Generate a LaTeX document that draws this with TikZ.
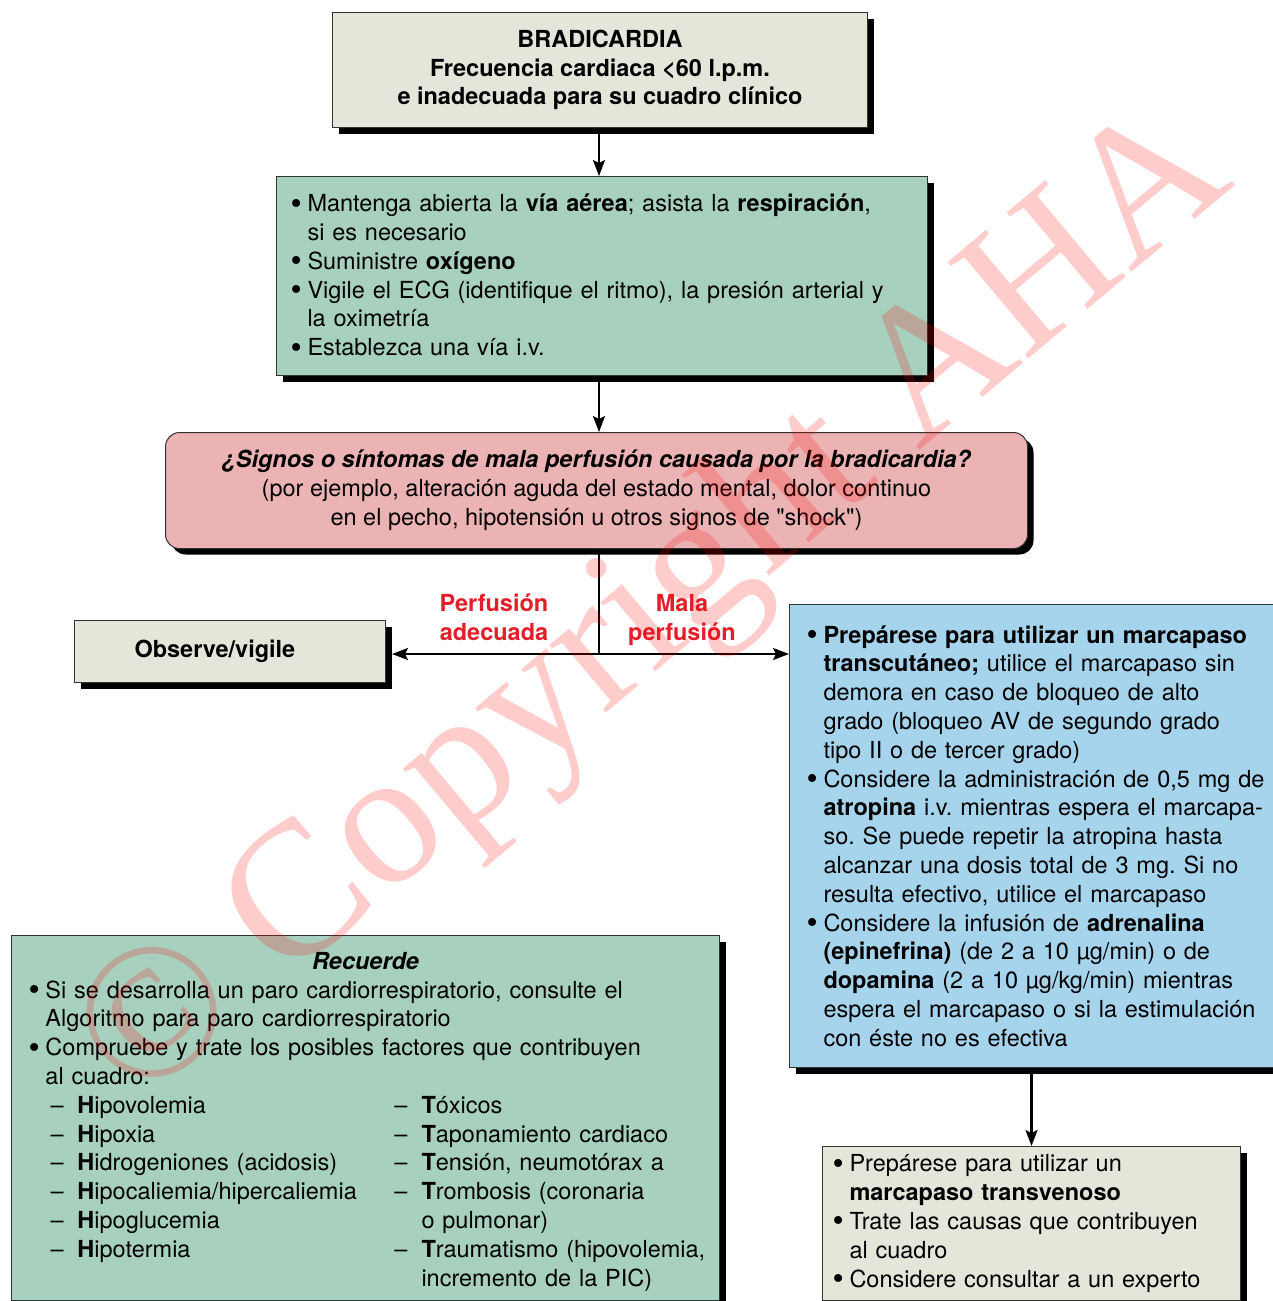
\documentclass[tikz,border=0pt]{standalone}
\usepackage{fontspec}
\setmainfont{TeX Gyre Heros}[Ligatures=TeXOff]
\newfontfamily\serifa{Liberation Serif}
\usetikzlibrary{shadows,arrows.meta}
\definecolor{cGris}{RGB}{230,229,218}
\definecolor{cVerde}{RGB}{168,208,190}
\definecolor{cRosa}{RGB}{236,179,180}
\definecolor{cAzul}{RGB}{166,212,236}
\definecolor{cRojo}{RGB}{228,30,40}
\newcommand{\cuerpo}{\fontsize{11.75}{14.4}\selectfont}
\newcommand{\bul}{\makebox[8.5pt][l]{\raisebox{-1.2pt}{\fontsize{16}{14.4}\selectfont•}}}
\newcommand{\ind}{\hspace*{8.5pt}}
\newcommand{\dsh}{\makebox[13.5pt][l]{–}}
\hyphenpenalty=10000
\frenchspacing

\begin{document}
\begin{tikzpicture}[x=0.5pt,y=-0.5pt]
	\tikzstyle{every node}+=[inner sep=0pt, font=\cuerpo]
	\tikzstyle{caja}=[draw=black!80, line width=0.5pt, anchor=north west, drop shadow={shadow xshift=3pt, shadow yshift=-3pt, fill=black, opacity=1}]
	\tikzstyle{rotulo}=[align=center, text=cRojo, font=\cuerpo\bfseries]
	\tikzstyle{flecha}=[line width=1.1pt, -{Stealth[length=8pt,width=6pt,inset=1.5pt]}]
	\useasboundingbox (0,0) rectangle (1273,1301);
	\node [caja, fill=cGris, minimum width=267.5pt, minimum height=57.5pt, align=center, font=\cuerpo\bfseries] (bradi) at (332,12) {BRADICARDIA\\Frecuencia cardiaca <60 l.p.m.\\e inadecuada para su cuadro clínico};
	\node [caja, fill=cVerde, inner xsep=7pt, text width=311.5pt, minimum height=99.5pt, align=left] (soporte) at (276,176) {\bul Mantenga abierta la \textbf{vía aérea}; asista la \textbf{respiración},\\
		\ind si es necesario\\
		\bul Suministre \textbf{oxígeno}\\
		\bul Vigile el ECG (identifique el ritmo), la presión arterial y\\
		\ind la oximetría\\
		\bul Establezca una vía i.v.};
	\node [caja, fill=cRosa, rounded corners=7pt, minimum width=431pt, minimum height=58pt, align=center] (pregunta) at (165,432) {\textbf{\textit{¿Signos o síntomas de mala perfusión causada por la bradicardia?}}\\(por ejemplo, alteración aguda del estado mental, dolor continuo\\en el pecho, hipotensión u otros signos de "shock")};
	\node [caja, fill=cGris, inner xsep=30pt, text width=95.5pt, minimum height=31pt, align=left, font=\cuerpo\bfseries] (observe) at (74,620) {Observe/vigile};
	\node [caja, fill=cAzul, inner xsep=8.5pt, text width=238.5pt, minimum height=231.5pt, align=left] (azul) at (789,604) {\bul \textbf{Prepárese para utilizar un marcapaso}\\
		\ind \textbf{transcutáneo;} utilice el marcapaso sin\\
		\ind demora en caso de bloqueo de alto\\
		\ind grado (bloqueo AV de segundo grado\\
		\ind tipo II o de tercer grado)\\
		\bul Considere la administración de 0,5 mg de\\
		\ind \textbf{atropina} i.v. mientras espera el marcapa-\\
		\ind so. Se puede repetir la atropina hasta\\
		\ind alcanzar una dosis total de 3 mg. Si no\\
		\ind resulta efectivo, utilice el marcapaso\\
		\bul Considere la infusión de \textbf{adrenalina}\\
		\ind \textbf{(epinefrina)} (de 2 a 10 µg/min) o de\\
		\ind \textbf{dopamina} (2 a 10 µg/kg/min) mientras\\
		\ind espera el marcapaso o si la estimulación\\
		\ind con éste no es efectiva};
	\node [caja, fill=cGris, inner xsep=5pt, text width=199pt, minimum height=77pt, align=left] (final) at (822,1146) {\bul Prepárese para utilizar un\\
		\ind \textbf{marcapaso transvenoso}\\
		\bul Trate las causas que contribuyen\\
		\ind al cuadro\\
		\bul Considere consultar a un experto};
	\node [caja, fill=cVerde, inner xsep=8.5pt, text width=337pt, minimum height=182.5pt, align=left] (recuerde) at (11,935) {\rule{0pt}{14pt}\makebox[337pt]{\textbf{\textit{Recuerde}}}\\
		\bul Si se desarrolla un paro cardiorrespiratorio, consulte el\\
		\ind Algoritmo para paro cardiorrespiratorio\\
		\bul Compruebe y trate los posibles factores que contribuyen\\
		\ind al cuadro:\\
		\hspace*{11pt}\makebox[172pt][l]{\begin{tabular}[t]{@{}l@{}}
			\dsh\textbf{H}ipovolemia\\
			\dsh\textbf{H}ipoxia\\
			\dsh\textbf{H}idrogeniones (acidosis)\\
			\dsh\textbf{H}ipocaliemia/hipercaliemia\\
			\dsh\textbf{H}ipoglucemia\\
			\dsh\textbf{H}ipotermia
		\end{tabular}}\begin{tabular}[t]{@{}l@{}}
			\dsh\textbf{T}óxicos\\
			\dsh\textbf{T}aponamiento cardiaco\\
			\dsh\textbf{T}ensión, neumotórax a\\
			\dsh\textbf{T}rombosis (coronaria\\
			\hspace*{13.5pt}o pulmonar)\\
			\dsh\textbf{T}raumatismo (hipovolemia,\\
			\hspace*{13.5pt}incremento de la PIC)
		\end{tabular}};
	\node [rotulo] (adecuada) at (494,620) {Perfusión\strut\\adecuada\strut};
	\node [rotulo] (mala) at (682,620) {Mala\strut\\perfusión\strut};
	\coordinate (split) at (599,654);
	\coordinate (obsend) at ([xshift=3pt]observe.east);
	\draw [flecha] (bradi.south -| split) -- (soporte.north -| split);
	\draw [flecha] (soporte.south -| split) -- (pregunta.north -| split);
	\draw [line width=1.1pt] (pregunta.south -| split) -- (split);
	\draw [flecha] (split) -- (split -| obsend);
	\draw [flecha] (split) -- (split -| azul.west);
	\draw [flecha] (azul.south -| final.north) -- (final.north);
	\node [text=red, opacity=0.2, rotate=40, font={\serifa\fontsize{96}{96}\selectfont}] (marca) at (657,611) {© Copyright AHA};
\end{tikzpicture}
\end{document}
